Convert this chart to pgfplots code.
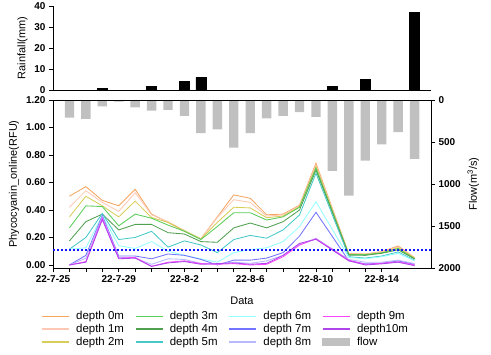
\documentclass[border=0pt]{standalone}
\usepackage{fontspec}
\setmainfont{Liberation Sans}
\usepackage{pgfplots}
\pgfplotsset{compat=1.18}
\definecolor{c0}{RGB}{245,165,95}
\definecolor{c1}{RGB}{255,200,180}
\definecolor{c2}{RGB}{215,205,90}
\definecolor{c3}{RGB}{90,205,90}
\definecolor{c4}{RGB}{80,160,80}
\definecolor{c5}{RGB}{70,200,200}
\definecolor{c6}{RGB}{150,255,255}
\definecolor{c7}{RGB}{115,115,255}
\definecolor{c8}{RGB}{185,185,255}
\definecolor{c9}{RGB}{255,70,255}
\definecolor{c10}{RGB}{175,70,235}
\definecolor{flowgray}{RGB}{192,192,192}
\definecolor{dotblue}{RGB}{20,20,255}
\pgfplotsset{
  base/.style={scale only axis, width=378bp, xmin=0, xmax=23,
    tick align=outside, major tick length=4bp, minor tick length=4bp,
    /pgf/number format/assume math mode=true,
    tick label style={font=\bfseries\fontsize{10}{12}\selectfont},
    label style={font=\fontsize{11}{13}\selectfont},
    every tick/.style={black, line width=0.6bp},
    axis line style={line width=0.7bp}},
}
\begin{document}
\begin{tikzpicture}
% rainfall panel
\begin{axis}[base, at={(0,178bp)}, anchor=south west, height=84bp,
  ymin=0, ymax=40, axis x line*=bottom, axis y line*=left,
  ytick={0,10,20,30,40}, xtick=\empty,
  ylabel={Rainfall(mm)}, ybar, bar width=0.6]
\addplot[fill=black, draw=black] coordinates {(3,0.8)(6,1.9)(8,4.0)(9,6.0)(17,1.9)(19,5.1)(22,37.0)};
\end{axis}
% flow axis (right, reversed)
\begin{axis}[base, at={(0,0)}, anchor=south west, height=168bp,
  ymin=0, ymax=2000, y dir=reverse, axis y line*=right, axis x line=none,
  ytick={0,500,1000,1500,2000}, /pgf/number format/1000 sep={},
  ylabel={Flow(m\textsuperscript{3}/s)}, ybar, bar width=0.57]
\addplot[fill=flowgray, draw=none] coordinates {(1,210)(2,226)(3,75)(4,20)(5,87)(6,127)(7,119)(8,190)(9,393)(10,349)(11,567)(12,393)(13,218)(14,190)(15,143)(16,202)(17,845)(18,1139)(19,722)(20,528)(21,381)(22,702)};
\end{axis}
% phycocyanin
\begin{axis}[base, at={(0,0)}, anchor=south west, height=168bp,
  ymin=-0.022, ymax=1.2, xtick pos=bottom, ytick pos=left,
  ytick={0,0.2,0.4,0.6,0.8,1.0,1.2},
  yticklabel style={/pgf/number format/.cd, fixed, fixed zerofill, precision=2},
  xtick={0,4,8,12,16,20},
  xticklabels={22-7-25,22-7-29,22-8-2,22-8-6,22-8-10,22-8-14},
  minor x tick num=3,
  ylabel={Phycocyanin\_online(RFU)},
  xlabel={Data},
  xlabel style={at={(rel axis cs:0.5,-0.196)}, anchor=center},
  legend columns=3, transpose legend,
  legend style={at={(rel axis cs:-0.032,-0.255)}, anchor=north west, draw=none, fill=none,
    font=\fontsize{11.5}{13}\selectfont, inner sep=0pt, row sep=2bp,
    nodes={inner sep=0.5bp},
    /tikz/every odd column/.append style={column sep=6bp},
    /tikz/every even column/.append style={column sep=8bp}},
  legend image code/.code={\draw[#1, line width=1.6bp] (0bp,0bp) -- (27bp,0bp);},
  every axis plot/.append style={line width=0.85bp}]
\addplot[c0] coordinates {(1,0.50)(2,0.57)(3,0.47)(4,0.43)(5,0.55)(6,0.37)(7,0.31)(8,0.245)(9,0.19)(10,0.35)(11,0.51)(12,0.485)(13,0.365)(14,0.37)(15,0.435)(16,0.74)(18,0.082)(19,0.08)(20,0.097)(21,0.138)(22,0.053)};
\addlegendentry{\makebox[50bp][l]{depth 0m}}
\addplot[c1] coordinates {(1,0.42)(2,0.54)(3,0.455)(4,0.39)(5,0.525)(6,0.365)(7,0.315)(8,0.25)(9,0.19)(10,0.345)(11,0.475)(12,0.455)(13,0.356)(14,0.364)(15,0.43)(16,0.725)(18,0.08)(19,0.078)(20,0.095)(21,0.13)(22,0.05)};
\addlegendentry{\makebox[50bp][l]{depth 1m}}
\addplot[c2] coordinates {(1,0.35)(2,0.50)(3,0.43)(4,0.35)(5,0.465)(6,0.345)(7,0.31)(8,0.25)(9,0.19)(10,0.31)(11,0.42)(12,0.415)(13,0.344)(14,0.356)(15,0.424)(16,0.715)(18,0.078)(19,0.075)(20,0.09)(21,0.125)(22,0.05)};
\addlegendentry{\makebox[50bp][l]{depth 2m}}
\addplot[c3] coordinates {(1,0.27)(2,0.43)(3,0.425)(4,0.285)(5,0.37)(6,0.34)(7,0.29)(8,0.245)(9,0.185)(10,0.28)(11,0.38)(12,0.38)(13,0.327)(14,0.35)(15,0.42)(16,0.705)(18,0.075)(19,0.075)(20,0.088)(21,0.12)(22,0.045)};
\addlegendentry{\makebox[50bp][l]{depth 3m}}
\addplot[c4] coordinates {(1,0.175)(2,0.315)(3,0.37)(4,0.255)(5,0.295)(6,0.295)(7,0.235)(8,0.225)(9,0.17)(10,0.165)(11,0.27)(12,0.305)(13,0.27)(14,0.315)(15,0.40)(16,0.69)(18,0.072)(19,0.07)(20,0.085)(21,0.11)(22,0.044)};
\addlegendentry{\makebox[50bp][l]{depth 4m}}
\addplot[c5] coordinates {(1,0.115)(2,0.20)(3,0.375)(4,0.185)(5,0.20)(6,0.245)(7,0.13)(8,0.175)(9,0.145)(10,0.09)(11,0.185)(12,0.215)(13,0.195)(14,0.255)(15,0.364)(16,0.667)(18,0.06)(19,0.05)(20,0.065)(21,0.095)(22,0.035)};
\addlegendentry{\makebox[50bp][l]{depth 5m}}
\addplot[c6] coordinates {(1,0.115)(2,0.125)(3,0.36)(4,0.14)(5,0.12)(6,0.17)(7,0.10)(8,0.07)(9,0.045)(10,0.02)(11,0.09)(12,0.112)(13,0.125)(14,0.17)(15,0.28)(16,0.46)(18,0.055)(19,0.045)(20,0.06)(21,0.085)(22,0.03)};
\addlegendentry{\makebox[50bp][l]{depth 6m}}
\addplot[c7] coordinates {(1,0.0)(2,0.07)(3,0.36)(4,0.065)(5,0.065)(6,0.045)(7,0.08)(8,0.07)(9,0.04)(10,0.0)(11,0.035)(12,0.035)(13,0.05)(14,0.09)(15,0.21)(16,0.383)(18,0.03)(19,0.008)(20,0.012)(21,0.03)(22,0.005)};
\addlegendentry{\makebox[50bp][l]{depth 7m}}
\addplot[c8] coordinates {(1,0.0)(2,0.05)(3,0.35)(4,0.055)(5,0.05)(6,0.005)(7,0.045)(8,0.04)(9,0.012)(10,0.005)(11,0.02)(12,0.012)(13,0.03)(14,0.07)(15,0.15)(16,0.194)(18,0.04)(19,0.02)(20,0.02)(21,0.035)(22,0.01)};
\addlegendentry{\makebox[50bp][l]{depth 8m}}
\addplot[c9] coordinates {(1,0.0)(2,0.025)(3,0.34)(4,0.05)(5,0.055)(6,-0.01)(7,0.02)(8,0.03)(9,0.01)(10,0.005)(11,0.01)(12,0.0)(13,0.005)(14,0.06)(15,0.145)(16,0.19)(18,0.035)(19,0.005)(20,0.012)(21,0.024)(22,0.0)};
\addlegendentry{\makebox[50bp][l]{depth 9m}}
\addplot[c10] coordinates {(1,0.0)(2,0.02)(3,0.33)(4,0.045)(5,0.05)(6,-0.01)(7,0.015)(8,0.025)(9,0.005)(10,0.01)(11,0.015)(12,0.005)(13,0.012)(14,0.07)(15,0.157)(16,0.187)(18,0.03)(19,0.0)(20,0.008)(21,0.02)(22,-0.005)};
\addlegendentry{\makebox[50bp][l]{depth10m}}
\addlegendimage{legend image code/.code={\fill[flowgray] (0bp,-3.5bp) rectangle (27bp,3.5bp);}}
\addlegendentry{\makebox[50bp][l]{flow}}
\addplot[dotblue, line width=1.5bp, dash pattern=on 1.5bp off 2.5bp, forget plot] coordinates {(0,0.11)(23,0.11)};
\end{axis}
\pgfresetboundingbox
\path[use as bounding box] (-53bp,-87bp) rectangle (438bp,268bp);
\end{tikzpicture}
\end{document}
